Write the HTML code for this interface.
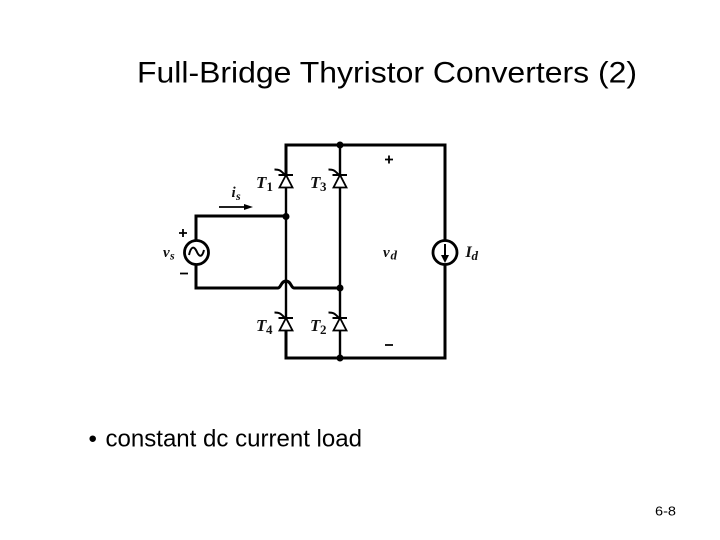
<!DOCTYPE html>
<html>
<head>
<meta charset="utf-8">
<style>
html,body{margin:0;padding:0;background:#fff}
svg{display:block}
.s{font-family:"Liberation Sans",sans-serif;fill:#000}
.m{font-family:"Liberation Serif",serif;font-style:italic;font-weight:bold;fill:#111}
.n{font-family:"Liberation Serif",serif;font-weight:bold;fill:#111}
.w{fill:none;stroke:#000;stroke-linecap:square}
</style>
</head>
<body>
<svg width="720" height="540" viewBox="0 0 720 540" xmlns="http://www.w3.org/2000/svg">
<rect width="720" height="540" fill="#fff"/>
<text class="s" x="137" y="82.500" font-size="30" textLength="500" lengthAdjust="spacingAndGlyphs">Full-Bridge Thyristor Converters (2)</text>
<text class="s" x="88.500" y="446.500" font-size="24">•</text>
<text class="s" x="105.500" y="446.500" font-size="24" textLength="256.500" lengthAdjust="spacingAndGlyphs">constant dc current load</text>
<text class="s" x="655" y="515.500" font-size="13" textLength="21" lengthAdjust="spacingAndGlyphs">6-8</text>

<!-- main wires -->
<path class="w" stroke-width="3" d="M286 175V145H445V239M445 265V358H286V331"/>
<path class="w" stroke-width="2.400" d="M286 187V318"/>
<path class="w" stroke-width="2.400" d="M340 145V175M340 187V318M340 330V358"/>
<path class="w" stroke-width="3" d="M196 239V216H286"/>
<path fill="none" stroke="#000" stroke-width="3" stroke-linejoin="miter" d="M196 265V288H278C281 288 281 281 286 281C291 281 291 288 294 288H340"/>

<!-- nodes -->
<circle cx="286" cy="216.500" r="3.500" fill="#000"/>
<circle cx="340" cy="145" r="3.500" fill="#000"/>
<circle cx="340" cy="288" r="3.500" fill="#000"/>
<circle cx="340" cy="358" r="3.500" fill="#000"/>

<!-- thyristors -->
<g fill="#fff" stroke="#000" stroke-width="1.800">
<path d="M286 175L279.500 187.500H292.500Z"/>
<path d="M340 175L333.500 187.500H346.500Z"/>
<path d="M286 318L279.500 330.500H292.500Z"/>
<path d="M340 318L333.500 330.500H346.500Z"/>
</g>
<g fill="none" stroke="#000" stroke-width="2">
<path d="M278.500 175H293M274.500 169.500C280 169.500 281 171 285 175"/>
<path d="M332.500 175H347M328.500 169.500C334 169.500 335 171 339 175"/>
<path d="M278.500 318H293M274.500 312.500C280 312.500 281 314 285 318"/>
<path d="M332.500 318H347M328.500 312.500C334 312.500 335 314 339 318"/>
</g>

<!-- AC source -->
<circle cx="196.500" cy="252.500" r="12" fill="#fff" stroke="#000" stroke-width="2.800"/>
<path d="M189 255C191 246 194 246 196.500 251C199 257 202 258 204 250" fill="none" stroke="#000" stroke-width="2"/>

<!-- current source -->
<circle cx="445" cy="252.500" r="12" fill="#fff" stroke="#000" stroke-width="2.800"/>
<path d="M445 244V258" stroke="#000" stroke-width="2"/>
<path d="M441 255L445 263L449 255Z" fill="#000"/>

<!-- is arrow -->
<path d="M219 207H250" stroke="#000" stroke-width="1.800"/>
<path d="M244 204L253 207L244 210Z" fill="#000"/>

<!-- labels -->
<text class="m" x="231.500" y="197" font-size="15">i</text>
<text class="m" x="236" y="200" font-size="12">s</text>
<text class="m" x="256" y="188" font-size="17">T</text>
<text class="n" x="266.500" y="191" font-size="13">1</text>
<text class="m" x="310" y="188" font-size="17">T</text>
<text class="n" x="320" y="191" font-size="13">3</text>
<text class="m" x="256" y="331" font-size="17">T</text>
<text class="n" x="266" y="334" font-size="13">4</text>
<text class="m" x="310" y="331" font-size="17">T</text>
<text class="n" x="320" y="334" font-size="13">2</text>
<text class="m" x="163" y="257" font-size="15">v</text>
<text class="m" x="170" y="259.500" font-size="12">s</text>
<text class="m" x="383" y="257" font-size="15">v</text>
<text class="m" x="390.500" y="259.500" font-size="13">d</text>
<text class="m" x="465.500" y="257" font-size="16">I</text>
<text class="m" x="471.500" y="260" font-size="13">d</text>

<!-- plus / minus -->
<path d="M179 233H187M183 229V237M180 273.500H188M385 159.500H393M389 155.500V163.500M385 345H393" stroke="#000" stroke-width="1.800" fill="none"/>
</svg>
</body>
</html>
